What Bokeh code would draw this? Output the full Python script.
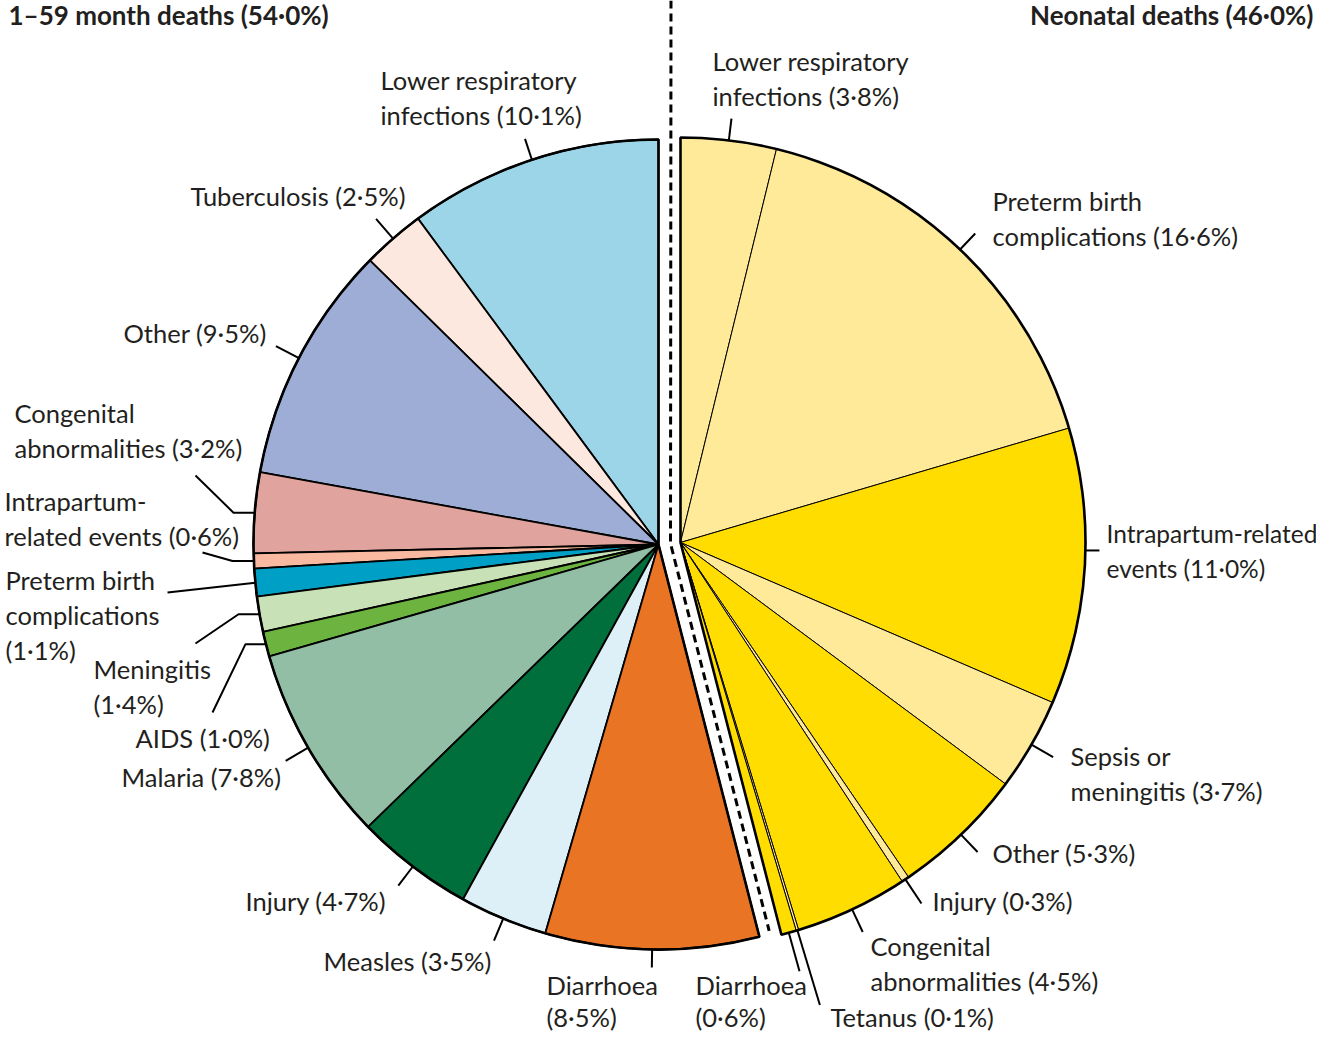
import math
from bokeh.plotting import figure
from bokeh.models import Range1d, ColumnDataSource
from bokeh.core.properties import value
from bokeh.embed import file_html
from bokeh.resources import INLINE

# ---------------- data ----------------
left_title = "1–59 month deaths"
left_share = 54.0
right_title = "Neonatal deaths"
right_share = 46.0

left_causes = ["Lower respiratory infections", "Tuberculosis", "Other",
               "Congenital abnormalities", "Intrapartum-related events",
               "Preterm birth complications", "Meningitis", "AIDS", "Malaria",
               "Injury", "Measles", "Diarrhoea"]
left_values = [10.1, 2.5, 9.5, 3.2, 0.6, 1.1, 1.4, 1.0, 7.8, 4.7, 3.5, 8.5]
left_colors = ["#9cd5e8", "#fde8df", "#9eadd6", "#e1a39e", "#f9b8a0", "#00a0c6",
               "#c8e1b7", "#6cb33f", "#93bea6", "#006f3c", "#def0f7", "#e87424"]
left_label_lines = ["Lower respiratory\ninfections ({})", "Tuberculosis ({})", "Other ({})",
                    "Congenital\nabnormalities ({})", "Intrapartum-\nrelated events ({})",
                    "Preterm birth\ncomplications\n({})", "Meningitis\n({})", "AIDS ({})",
                    "Malaria ({})", "Injury ({})", "Measles ({})", "Diarrhoea\n({})"]

right_causes = ["Lower respiratory infections", "Preterm birth complications",
                "Intrapartum-related events", "Sepsis or meningitis", "Other", "Injury",
                "Congenital abnormalities", "Tetanus", "Diarrhoea"]
right_values = [3.8, 16.6, 11.0, 3.7, 5.3, 0.3, 4.5, 0.1, 0.6]
right_colors = ["#ffea99", "#ffea99", "#ffdd00", "#ffea99", "#ffdd00", "#ffea99",
                "#ffdd00", "#ffea99", "#ffdd00"]
right_label_lines = ["Lower respiratory\ninfections ({})", "Preterm birth\ncomplications ({})",
                     "Intrapartum-related\nevents ({})", "Sepsis or\nmeningitis ({})",
                     "Other ({})", "Injury ({})", "Congenital\nabnormalities ({})",
                     "Tetanus ({})", "Diarrhoea\n({})"]

# ---------------- layout (image pixel coordinates) ----------------
W, H = 1316, 1032
IMG_H = 1048
def Y(iy):
    return IMG_H - iy

R = 405
LC = (658, Y(544))   # left pie centre
RC = (680, Y(542))   # right (exploded) pie centre
FONT = "Lato"
FS = "25.5px"
TXT = "#231f20"

# label anchor (left x, centre y of first line, line gap, font size) and leader spec
left_pos = [(380, 79, 35, FS), (190, 195, 35, FS), (123, 332, 35, FS), (14, 412, 35, FS),
            (4, 500, 35, FS), (5, 579, 35, FS), (93, 668, 35, FS), (135, 737, 35, FS),
            (121, 776, 35, FS), (245, 900, 35, FS), (323, 960, 35, FS), (546, 984, 32, FS)]
left_lead = [("r", 22), ("r", 26), ("r", 26), ("h", 233, (195, 475)),
             ("h", 232, (202, 552)), ("p", [(167, 592)]), ("h", 238, (195, 643)),
             ("h", 245, (212, 712)), ("r", 26), ("r", 24), ("r", 24), ("r", 18)]
right_pos = [(712, 60, 35, FS), (992, 200, 35, FS), (1106, 533, 35, "24.5px"),
             (1070, 755, 35, FS), (992, 852, 35, FS), (932, 900, 35, FS),
             (870, 945, 35, FS), (830, 1016, 35, FS), (695, 984, 32, FS)]
right_lead = [("r", 22), ("r", 22), ("t", 14, 2.3), ("r", 25), ("r", 24), ("r", 29),
              ("r", 25), ("r", 78), ("r", 40)]

def fmt(v):
    return ("%.1f" % v).replace(".", "·") + "%"

total = sum(left_values) + sum(right_values)
K = 360.0 / total

def cum(vals):
    out, c = [], 0.0
    for v in vals:
        out.append((c, c + v))
        c += v
    return out

left_angles = [(90 + a * K, 90 + b * K) for a, b in cum(left_values)]
right_angles = [(90 - b * K, 90 - a * K) for a, b in cum(right_values)]

p = figure(width=W, height=H, output_backend="svg", toolbar_location=None,
           x_range=Range1d(0, W), y_range=Range1d(Y(H), Y(0)),
           x_axis_location=None, y_axis_location=None, min_border=0)
p.grid.visible = False
p.outline_line_color = None
p.background_fill_color = "white"
p.border_fill_color = "white"

def add_wedges(center, angles, colors, lw):
    src = ColumnDataSource(dict(
        x=[center[0]] * len(angles), y=[center[1]] * len(angles),
        s=[math.radians(a) for a, b in angles], e=[math.radians(b) for a, b in angles],
        c=colors))
    p.wedge(x="x", y="y", radius=R, start_angle="s", end_angle="e", fill_color="c",
            line_color="black", line_width=lw, source=src, direction="anticlock")

add_wedges(LC, left_angles, left_colors, 1.8)
add_wedges(RC, right_angles, right_colors, 1.0)

# group outlines
p.wedge(x=[LC[0]], y=[LC[1]], radius=R, start_angle=math.radians(left_angles[0][0]),
        end_angle=math.radians(left_angles[-1][1]), fill_color=None, line_color="black",
        line_width=2.6)
p.wedge(x=[RC[0]], y=[RC[1]], radius=R, start_angle=math.radians(right_angles[-1][0]),
        end_angle=math.radians(right_angles[0][1]), fill_color=None, line_color="black",
        line_width=2.6)

# dashed divider
mx, my = (LC[0] + RC[0]) / 2.0, (LC[1] + RC[1]) / 2.0
tb = math.radians(left_angles[-1][1])
p.line([mx + 1.5, mx + 1, mx + 400 * math.cos(tb)], [Y(0), my, my + 400 * math.sin(tb)],
       line_color="black", line_width=3, line_dash="8 5")

# leaders + labels
lx, ly, tx, ty, tt, ts = [], [], [], [], [], []

def leaders(center, angles, pos, leads, templates, vals):
    for (a, b), (px, py, gap, fs), ld, tpl, v in zip(angles, pos, leads, templates, vals):
        mid = (a + b) / 2.0
        if ld[0] == "t":
            mid += ld[2]
        m = math.radians(mid)
        x0, y0 = center[0] + R * math.cos(m), center[1] + R * math.sin(m)
        if ld[0] == "r":
            xs = [x0, center[0] + (R + ld[1]) * math.cos(m)]
            ys = [y0, center[1] + (R + ld[1]) * math.sin(m)]
        elif ld[0] == "h":
            xs = [x0, ld[1], ld[2][0]]
            ys = [y0, y0, Y(ld[2][1])]
        elif ld[0] == "p":
            xs = [x0] + [q[0] for q in ld[1]]
            ys = [y0] + [Y(q[1]) for q in ld[1]]
        else:
            xs = [x0, x0 + ld[1]]
            ys = [y0, y0]
        lx.append(xs)
        ly.append(ys)
        for i, line in enumerate(tpl.format(fmt(v)).split("\n")):
            tx.append(px)
            ty.append(Y(py + i * gap))
            tt.append(line)
            ts.append(fs)

leaders(LC, left_angles, left_pos, left_lead, left_label_lines, left_values)
leaders(RC, right_angles, right_pos, right_lead, right_label_lines, right_values)

p.multi_line(lx, ly, line_color="black", line_width=2)
lsrc = ColumnDataSource(dict(x=tx, y=ty, text=tt, size=ts))
p.text(x="x", y="y", text="text", text_font=value(FONT), text_font_size="size",
       text_baseline="middle", text_align="left", text_color=TXT, source=lsrc)

# group titles
p.text(x=[8], y=[Y(14)], text=["%s (%s)" % (left_title, fmt(left_share))],
       text_font=value(FONT), text_font_size="26px", text_font_style="bold",
       text_baseline="middle", text_align="left", text_color=TXT)
p.text(x=[1313], y=[Y(14)], text=["%s (%s)" % (right_title, fmt(right_share))],
       text_font=value(FONT), text_font_size="26px", text_font_style="bold",
       text_baseline="middle", text_align="right", text_color=TXT)

open("out.html", "w").write(file_html(p, INLINE))
